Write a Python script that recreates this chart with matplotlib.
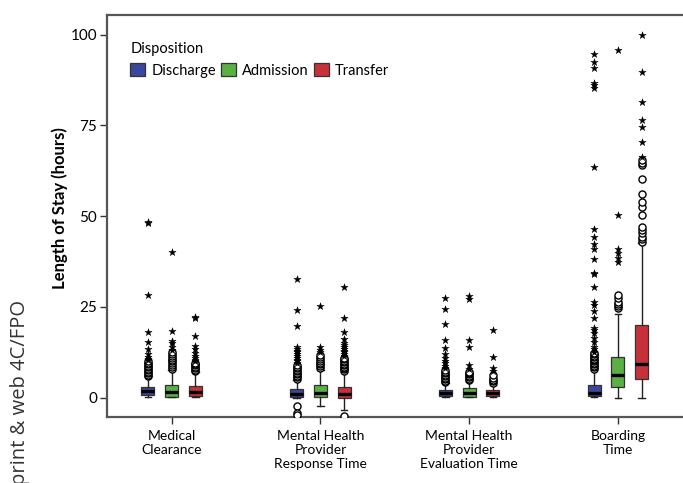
import matplotlib
matplotlib.use("Agg")
import matplotlib.pyplot as plt
from matplotlib.patches import Patch

plt.rcParams['font.family'] = ['Lato', 'DejaVu Sans']

groups = ["Medical\nClearance", "Mental Health\nProvider\nResponse Time",
          "Mental Health\nProvider\nEvaluation Time", "Boarding\nTime"]
dispositions = ["Discharge", "Admission", "Transfer"]
colors = ["#3B479C", "#5BB044", "#C9313A"]

# box stats per group: [whislo, q1, median, q3, whishi]
discharge_stats = [[0.2, 0.7, 1.8, 3.0, 5.8],
                   [0.0, 0.3, 1.0, 2.3, 5.0],
                   [0.1, 0.5, 1.2, 2.1, 4.0],
                   [0.1, 0.6, 1.4, 3.6, 7.6]]
admission_stats = [[0.2, 0.3, 1.5, 3.5, 7.6],
                   [-2.3, 0.3, 1.2, 3.5, 7.6],
                   [0.1, 0.3, 1.3, 2.6, 4.5],
                   [0.0, 3.0, 6.2, 11.1, 23.2]]
transfer_stats = [[0.2, 0.5, 1.5, 3.2, 7.0],
                  [-3.4, 0.0, 1.0, 2.9, 7.0],
                  [0.1, 0.5, 1.3, 2.2, 3.5],
                  [0.0, 5.1, 9.3, 19.9, 42.5]]

# outliers (open circles) and extremes (stars)
discharge_circles = [[6.0, 6.4, 6.8, 7.2, 7.6, 8.0, 8.4, 8.8, 9.2, 9.6, 10.0],
                     [-2.3, -4.2, -4.7, 5.3, 5.7, 6.1, 6.5, 6.9, 7.3, 7.7, 8.1, 8.5, 9.0],
                     [4.3, 4.7, 5.1, 5.5, 5.9, 6.3, 6.7, 7.1, 7.6],
                     [8.0, 8.4, 8.8, 9.2, 9.6, 10.0, 10.4, 10.8, 11.2, 11.6, 12.0, 12.4]]
discharge_stars = [[10.4, 10.8, 11.3, 12.0, 13.5, 15.3, 18.0, 28.3, 48.0, 48.5],
                   [9.5, 10.0, 10.5, 11.0, 11.5, 12.0, 12.5, 13.0, 13.5, 14.1, 19.7, 24.1, 32.8],
                   [8.1, 8.7, 9.5, 10.2, 11.0, 12.0, 13.6, 16.0, 20.3, 24.5, 27.4],
                   [12.7, 13.3, 14.1, 15.4, 16.4, 17.7, 18.6, 19.3, 21.9, 23.9, 25.5, 26.4,
                    30.4, 34.0, 34.4, 38.2, 41.1, 42.3, 44.4, 46.5, 63.6, 85.4, 86.0, 86.8,
                    90.7, 92.4, 94.6]]
admission_circles = [[8.0, 8.5, 9.0, 9.5, 10.0, 10.5, 11.0, 11.5, 12.0, 12.5],
                     [8.2, 8.7, 9.2, 9.7, 10.2, 10.7, 11.2, 11.7],
                     [4.9, 5.3, 5.7, 6.1, 6.5, 6.9, 7.2],
                     [24.6, 25.2, 25.8, 26.4, 27.4, 28.3]]
admission_stars = [[13.2, 14.0, 15.0, 15.6, 18.4, 40.0],
                   [12.5, 13.2, 14.1, 25.3],
                   [8.0, 9.0, 14.1, 15.9, 27.2, 28.1],
                   [37.5, 38.4, 39.8, 41.1, 50.3, 95.8]]
transfer_circles = [[7.3, 7.7, 8.1, 8.5, 8.9, 9.3, 9.7],
                    [-5.0, 7.4, 7.8, 8.2, 8.6, 9.0, 9.4, 9.8, 10.2, 10.6, 11.0],
                    [4.0, 4.5, 5.0, 5.5, 6.2],
                    [43.0, 43.6, 44.4, 45.3, 46.2, 47.1, 50.3, 52.6, 54.0, 56.1, 60.2,
                     64.1, 64.7, 65.5]]
transfer_stars = [[10.0, 10.5, 11.0, 11.5, 12.2, 13.4, 14.3, 17.1, 22.0, 22.3],
                  [11.5, 12.0, 12.5, 13.0, 13.5, 14.0, 14.6, 15.2, 16.2, 18.2, 22.0, 30.6],
                  [7.5, 8.1, 11.1, 18.6],
                  [66.4, 70.5, 74.5, 76.5, 81.5, 89.7, 99.9]]

all_stats = [discharge_stats, admission_stats, transfer_stats]
all_circles = [discharge_circles, admission_circles, transfer_circles]
all_stars = [discharge_stars, admission_stars, transfer_stars]

fig = plt.figure(figsize=(6.83, 4.83), dpi=100)
ax = fig.add_axes([107 / 683, 66 / 483, 580 / 683, 402 / 483])

offset = 0.16
width = 0.088
for k, (stats, circ, star, col) in enumerate(zip(all_stats, all_circles, all_stars, colors)):
    pos = [i + (k - 1) * offset for i in range(len(groups))]
    bx = [dict(whislo=s[0], q1=s[1], med=s[2], q3=s[3], whishi=s[4], fliers=[]) for s in stats]
    ax.bxp(bx, positions=pos, widths=width, patch_artist=True, showfliers=False,
           boxprops=dict(facecolor=col, edgecolor='#333333', linewidth=0.9),
           medianprops=dict(color='black', linewidth=2.4),
           whiskerprops=dict(color='#222222', linewidth=1.0),
           capprops=dict(color='#222222', linewidth=1.0), capwidths=width * 0.5,
           manage_ticks=False, zorder=3)
    for p, c, s in zip(pos, circ, star):
        ax.scatter([p] * len(c), c, s=26, facecolors='white', edgecolors='black',
                   linewidths=1.0, zorder=4)
        ax.scatter([p] * len(s), s, s=30, marker='*', color='black', linewidths=0.3,
                   zorder=4)

ax.set_xlim(-0.435, 3.465)
ax.set_ylim(-5.3, 105.4)
ax.set_xticks(range(len(groups)))
ax.set_xticklabels(groups, fontsize=10, linespacing=1.2)
ax.set_yticks([0, 25, 50, 75, 100])
ax.tick_params(axis='y', labelsize=11, length=5, width=1.0, color='#333333', pad=2)
ax.tick_params(axis='x', length=5, width=1.0, color='#333333', pad=4)
for sp in ax.spines.values():
    sp.set_color('#555555')
    sp.set_linewidth(1.6)
ax.spines['right'].set_visible(False)
ax.set_ylabel('Length of Stay (hours)', fontsize=12, fontweight='bold')
ax.yaxis.set_label_coords(-0.067, 0.52)

handles = [Patch(facecolor=c, edgecolor='#333333', linewidth=0.9, label=d)
           for c, d in zip(colors, dispositions)]
leg = ax.legend(handles=handles, title='Disposition', ncol=3, loc='upper left',
                bbox_to_anchor=(0.025, 0.955), frameon=False, fontsize=10.5,
                title_fontsize=10.5, alignment='left', handlelength=1.0,
                handleheight=1.0, handletextpad=0.45, columnspacing=0.35,
                borderaxespad=0.2)

fig.text(20 / 683, 1 - 300 / 483, 'print & web 4C/FPO', rotation=90, fontsize=14.5,
         ha='center', va='top', color='#333333', family=['Open Sans', 'DejaVu Sans'])

fig.savefig('out.png', dpi=100)
